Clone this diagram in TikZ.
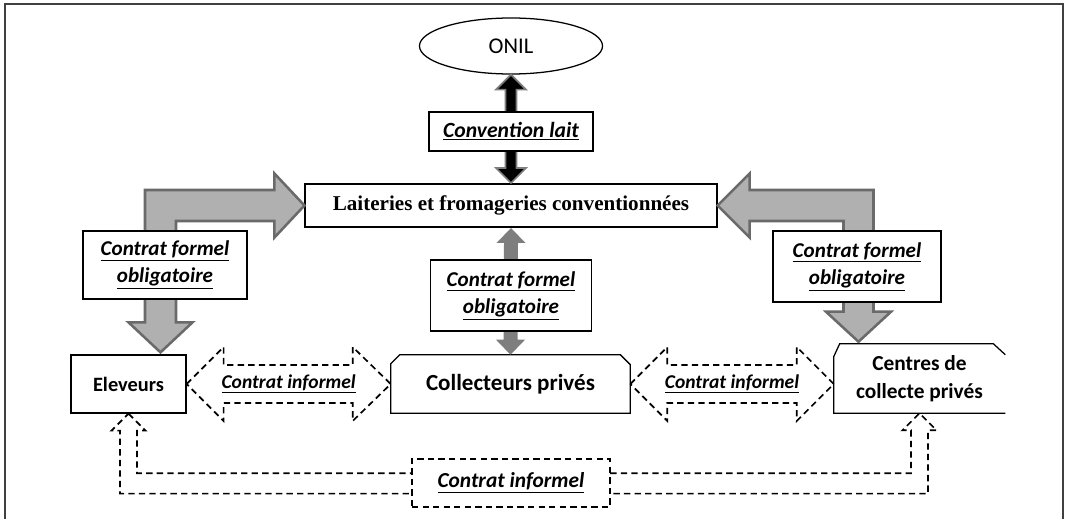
\documentclass[tikz,border=0pt]{standalone}
\usepackage{fontspec}
\setmainfont{Carlito}
\newfontfamily\serifbf{Liberation Serif}
\usetikzlibrary{shapes.geometric,calc,positioning}

\definecolor{arrowfill}{HTML}{B0B0B0}
\definecolor{arrowline}{HTML}{6A6A6A}
\definecolor{midgrey}{HTML}{7E7E7E}

\tikzset{
  box/.style={draw, fill=white, line width=0.9pt, inner sep=0pt, align=center},
  contrat/.style={box, font=\fontsize{15}{19.5}\selectfont\bfseries\itshape},
  acteur/.style={inner sep=0pt, align=center, font=\fontsize{14.5}{20}\selectfont\bfseries},
  greyarrow/.style={fill=arrowfill, draw=arrowline, line width=1.8pt},
  dasharrow/.style={line width=1.2pt, dash pattern=on 4.5pt off 3pt},
  informel/.style={inner sep=0pt, font=\fontsize{13.9}{16}\selectfont\bfseries\itshape},
}

\begin{document}
\begin{tikzpicture}[x=0.025cm, y=-0.025cm]
\useasboundingbox (0,0) rectangle (1065,519);
% frame
\draw [line width=1pt, black!75] (5,519) -- (5,4) -- (1063,4) -- (1063,519);
% nodes
\node [draw, ellipse, inner sep=0pt, minimum width=4.575cm, minimum height=1.4cm, line width=0.9pt, font=\fontsize{16}{18}\selectfont] (onil) at (511,46) {ONIL};
\node [box, minimum width=10.275cm, minimum height=1.075cm, line width=1.4pt, font=\serifbf\fontsize{15}{17}\selectfont\bfseries] (lait) at (511,205.5) {Laiteries et fromageries conventionnées};
\node [acteur, draw, minimum width=2.875cm, minimum height=1.45cm, line width=0.9pt] (elev) at (128.5,384) {Eleveurs};
\node [acteur, minimum width=5.975cm, minimum height=1.45cm, font=\fontsize{16.4}{20}\selectfont\bfseries] (col) at (510.5,384) {Collecteurs privés};
\node [acteur, minimum width=4.275cm, minimum height=1.725cm, font=\fontsize{15.2}{20}\selectfont\bfseries] (cen) at (919.5,378.5) {Centres de\\collecte privés};
% cut corner outlines
\draw [line width=0.9pt] (col.south west) -- ($(col.north west)+(0,9)$) -- ($(col.north west)+(9,0)$)
	-- ($(col.north east)+(-10,0)$) -- ($(col.north east)+(0,10)$) -- (col.south east) -- cycle;
\draw [line width=0.9pt] (cen.south east) -- (cen.south west) -- ($(cen.north west)+(0,13)$)
	-- ($(cen.north west)+(6,0)$) -- ($(cen.north east)+(-12,0)$) -- ($(cen.north east)+(0,11)$);
% grey arrows
\coordinate (tipL) at ($(elev.north)+(32,-2)$);
\coordinate (tipR) at ($(cen.north)+(-61,-2)$);
\draw [greyarrow] (lait.west) -- ++(-30,-32) -- ++(0,16.5) -| ($(tipL)+(-15.5,-30)$) -- ++(-16.5,0)
	-- (tipL) -- ++(32,-30) -- ++(-16.5,0) |- ($(lait.west)+(-30,15.5)$) -- ++(0,16.5) -- cycle;
\draw [greyarrow] (lait.east) -- ++(32,-32) -- ++(0,16.5) -| ($(tipR)+(15,-30)$) -- ++(17.5,0)
	-- (tipR) -- ++(-32.5,-30) -- ++(17.5,0) |- ($(lait.east)+(32,15.5)$) -- ++(0,16.5) -- cycle;
\fill [midgrey] (lait.south) -- ++(14.5,15) -- ++(-7.5,0) -- ($(col.north)+(7,-15)$) -- ++(7.5,0)
	-- (col.north) -- ++(-14.5,-15) -- ++(7.5,0) -- ($(lait.south)+(-7,15)$) -- ++(-7.5,0) -- cycle;
\draw [fill=black, draw=midgrey, line width=1.2pt] (onil.south) -- ++(15,15) -- ++(-9.5,0)
	-- ($(lait.north)+(5.5,-15)$) -- ++(9.5,0) -- (lait.north) -- ++(-15,-15) -- ++(9.5,0)
	-- ($(onil.south)+(-5.5,15)$) -- ++(-9.5,0) -- cycle;
% dashed arrows
\coordinate (cenW) at (cen.west |- col.east);
\draw [dasharrow] (elev.east) -- ++(37,-37) -- ++(0,18) -- ($(col.west)+(-38,-19)$) -- ++(0,-18)
	-- (col.west) -- ++(-38,37) -- ++(0,-18) -- ($(elev.east)+(37,19)$) -- ++(0,18) -- cycle;
\draw [dasharrow] (col.east) -- ++(37,-37) -- ++(0,18) -- ($(cenW)+(-37,-19)$) -- ++(0,-18)
	-- (cenW) -- ++(-37,37) -- ++(0,-18) -- ($(col.east)+(37,19)$) -- ++(0,18) -- cycle;
\draw [dasharrow] (elev.south) -- ++(17,17) -- ++(-8.5,0) |- ($(cen.south)+(-8.5,60)$) -- ++(0,-43)
	-- ++(-8.5,0) -- (cen.south) -- ++(17,17) -- ++(-8.5,0) |- ($(elev.south)+(-8.5,80)$)
	-- ++(0,-63) -- ++(-8.5,0) -- cycle;
% labels
\node [box, minimum width=4.1cm, minimum height=0.975cm, font=\fontsize{15.4}{17}\selectfont\bfseries\itshape] (conv) at (511,131.5) {\underline{Convention lait}};
\node [contrat, minimum width=4.1cm, minimum height=1.7cm] (cfL) at (165,265) {\underline{Contrat formel}\\\underline{obligatoire}};
\node [contrat, minimum width=4.025cm, minimum height=1.775cm] (cfC) at (511,295.5) {\underline{Contrat formel}\\\underline{obligatoire}};
\node [contrat, minimum width=4.2cm, minimum height=1.775cm] (cfR) at (857,266.5) {\underline{Contrat formel}\\\underline{obligatoire}};
\node [informel] (ci1) at ($(elev.east)!0.5!(col.west)$) {\underline{Contrat informel}};
\node [informel] (ci2) at ($(col.east)!0.5!(cenW)$) {\underline{Contrat informel}};
\node [box, dasharrow, minimum width=4.95cm, minimum height=1.2cm, font=\fontsize{15.2}{17}\selectfont\bfseries\itshape] (ci3) at (511,483) {\underline{Contrat informel}};
\end{tikzpicture}
\end{document}
